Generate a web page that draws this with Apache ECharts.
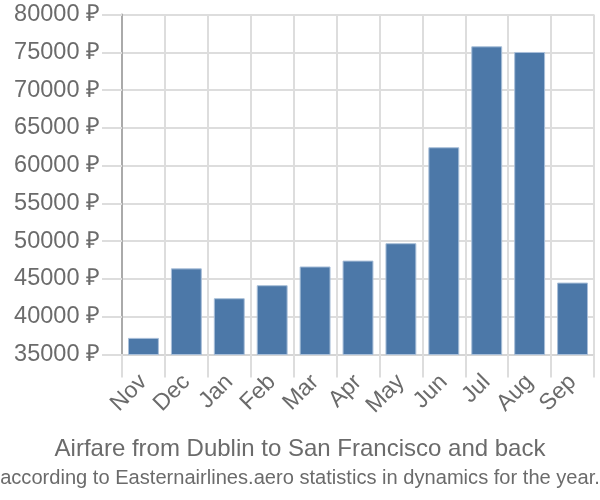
<!DOCTYPE html>
<html><head><meta charset="utf-8">
<script src="https://cdn.jsdelivr.net/npm/echarts@6/dist/echarts.min.js"></script>
<style>html,body{margin:0;padding:0;background:#fff}#c{width:600px;height:500px}</style>
</head><body><div id="c"></div>
<script>
const categories = ["Nov","Dec","Jan","Feb","Mar","Apr","May","Jun","Jul","Aug","Sep"];
const prices = [37200, 46400, 42450, 44170, 46650, 47430, 49730, 62430, 75790, 75040, 44520];
const yMin = 35000, yMax = 80000, yStep = 5000;
const titleText = "Airfare from Dublin to San Francisco and back";
const subText = "according to Easternairlines.aero statistics in dynamics for the year.";
const font = "'Liberation Sans', Arial, sans-serif";

const chart = echarts.init(document.getElementById('c'), null, {renderer:'canvas'});
chart.setOption({
  animation:false,
  title:{
    text:titleText, subtext:subText, left:'center', top:432, itemGap:7,
    textStyle:{fontFamily:font,fontSize:24,fontWeight:'normal',color:'#6b6b6b'},
    subtextStyle:{fontFamily:font,fontSize:20.1,color:'#6b6b6b'}
  },
  grid:{left:122,right:6,top:14.5,bottom:145.5,containLabel:false},
  xAxis:{
    type:'category', data:categories, boundaryGap:true,
    axisLine:{show:true,lineStyle:{color:'#d5d5d5',width:2}},
    axisTick:{show:true,length:23,alignWithLabel:false,lineStyle:{color:'#dddddd',width:2}},
    splitLine:{show:true,lineStyle:{color:'#dddddd',width:2}},
    axisLabel:{rotate:45,fontFamily:font,fontSize:23,color:'#6b6b6b',margin:24,interval:0}
  },
  yAxis:{
    type:'value', min:yMin, max:yMax, interval:yStep,
    axisLine:{show:true,lineStyle:{color:'#aaaaaa',width:2}},
    axisTick:{show:true,length:20,lineStyle:{color:'#dddddd',width:2}},
    splitLine:{show:true,lineStyle:{color:'#dddddd',width:2}},
    axisLabel:{fontFamily:font,fontSize:23.5,color:'#6b6b6b',margin:22,formatter:v=>v+' ₽'}
  },
  series:[{
    type:'bar', data:prices, barCategoryGap:'28%',
    itemStyle:{color:'#4c78a8',borderColor:'#a9bfd9',borderWidth:1}
  }]
});
</script></body></html>
